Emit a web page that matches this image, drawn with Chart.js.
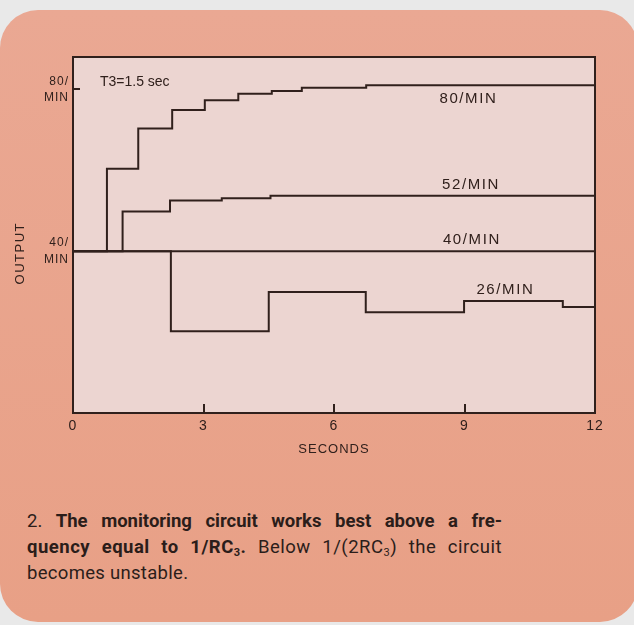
<!DOCTYPE html>
<html>
<head>
<meta charset="utf-8">
<script src="https://cdn.jsdelivr.net/npm/chart.js@4.4.1/dist/chart.umd.min.js"></script>
<style>
  html, body { margin: 0; padding: 0; background: #e9e9e9; }
  body { width: 634px; height: 625px; position: relative; overflow: hidden; }
  #card { position: absolute; left: 0; top: 10px; width: 638px; height: 612px; border-radius: 38px;
          background: linear-gradient(#eaa893, #e8a086); }
  #wrap { position: absolute; left: 0; top: 0; width: 634px; height: 470px; }
  #caption { position: absolute; left: 27px; top: 508px; width: 475px; color: #2b1d1a;
             font: 18.5px Roboto, sans-serif; line-height: 26px; }
  #caption span { display: block; text-align: justify; text-align-last: justify; white-space: nowrap; }
  #caption span.second { letter-spacing: 0.5px; }
  #caption span.last { text-align-last: left; letter-spacing: 0.3px; }
  #caption sub { font-size: 11px; vertical-align: -3px; line-height: 0; }
</style>
</head>
<body>
<div id="card"></div>
<div id="wrap"><canvas id="grafica" width="634" height="470"></canvas></div>
<div id="caption">
  <span>2. <b>The monitoring circuit works best above a fre-</b></span>
  <span class="second"><b>quency equal to 1/RC<sub>3</sub>.</b> Below 1/(2RC<sub>3</sub>) the circuit</span>
  <span class="last">becomes unstable.</span>
</div>
<script>
// tiempos (s) y niveles de salida de cada respuesta escalonada
var secondsTicks = [0, 3, 6, 9, 12];
var outputTicks = [40, 80];
var outputTickLabels = [["40/", "MIN"], ["80/", "MIN"]];

var t80 = [0, 0.78, 1.5, 2.28, 3.03, 3.8, 4.57, 5.26, 6.74, 12];
var v80 = [40, 60.4, 70.3, 74.9, 77.3, 78.9, 79.6, 80.4, 81.0, 81.0];
var t52 = [0, 1.14, 2.23, 3.42, 4.54, 12];
var v52 = [40, 49.8, 52.5, 53.1, 53.7, 53.7];
var t40 = [0, 12];
var v40 = [40, 40];
var t26 = [0, 2.25, 4.5, 6.73, 8.99, 11.26, 12];
var v26 = [40, 20.2, 29.9, 24.9, 27.7, 26.2, 26.2];

var curveNames = ["80/MIN", "52/MIN", "40/MIN", "26/MIN"];
var note = "T3=1.5 sec";

// donde va cada etiqueta, en unidades de los ejes (segundos, salida)
var labelSpots = [[9.09, 77.6], [9.15, 56.4], [9.17, 42.7], [9.94, 30.4]];
var noteSpot = [0.62, 81.7];

var ink = "#30201c";

function puntos(ts, vs) {
  return ts.map(function (t, i) { return { x: t, y: vs[i] }; });
}

function serie(ts, vs) {
  return {
    data: puntos(ts, vs),
    stepped: true,
    borderColor: ink,
    borderWidth: 2,
    pointRadius: 0,
    fill: false,
  };
}

var marco = {
  id: "marco",
  beforeDraw: function (chart) {
    var ctx = chart.ctx, a = chart.chartArea;
    ctx.save();
    ctx.fillStyle = "#ecd5d1";
    ctx.fillRect(a.left, a.top, a.width, a.height);
    ctx.restore();
    ctx.letterSpacing = "1px";
  },
  afterDraw: function (chart) {
    var ctx = chart.ctx, a = chart.chartArea;
    var sx = chart.scales.x, sy = chart.scales.y;
    ctx.save();
    ctx.strokeStyle = ink;
    ctx.lineWidth = 2;
    ctx.strokeRect(a.left, a.top, a.width, a.height);

    ctx.fillStyle = ink;
    ctx.letterSpacing = "1.6px";
    ctx.font = '15px "Liberation Sans", sans-serif';
    ctx.textAlign = "center";
    ctx.textBaseline = "middle";
    curveNames.forEach(function (name, i) {
      ctx.fillText(name, sx.getPixelForValue(labelSpots[i][0]), sy.getPixelForValue(labelSpots[i][1]));
    });

    ctx.letterSpacing = "0px";
    ctx.font = '14px "Liberation Sans", sans-serif';
    ctx.textAlign = "left";
    ctx.fillText(note, sx.getPixelForValue(noteSpot[0]), sy.getPixelForValue(noteSpot[1]));

    // titulo del eje vertical
    ctx.letterSpacing = "1.5px";
    ctx.font = '13px "Liberation Sans", sans-serif';
    ctx.translate(a.left - 53, sy.getPixelForValue(39.5));
    ctx.rotate(-Math.PI / 2);
    ctx.textAlign = "center";
    ctx.fillText("OUTPUT", 0, 0);
    ctx.restore();
  },
};

var ctx = document.getElementById("grafica").getContext("2d");
var chart = new Chart(ctx, {
  type: "line",
  data: {
    datasets: [serie(t80, v80), serie(t52, v52), serie(t40, v40), serie(t26, v26)],
  },
  options: {
    responsive: false,
    animation: false,
    layout: { padding: { top: 57, right: 39, left: 0, bottom: 0 } },
    plugins: { legend: { display: false }, tooltip: { enabled: false } },
    scales: {
      x: {
        type: "linear",
        min: 0,
        max: 12,
        afterBuildTicks: function (scale) {
          scale.ticks = secondsTicks.map(function (v) { return { value: v }; });
        },
        afterFit: function (scale) { scale.height = 57; },
        border: { display: false },
        grid: { drawOnChartArea: false, drawTicks: true, tickLength: -9, color: ink, lineWidth: 2 },
        ticks: { color: ink, padding: 14, maxRotation: 0, font: { family: "Liberation Sans", size: 14 } },
        title: {
          display: true,
          text: "SECONDS",
          color: ink,
          padding: { top: 0, bottom: 13 },
          font: { family: "Liberation Sans", size: 13 },
        },
      },
      y: {
        type: "linear",
        min: 0,
        max: 88,
        afterBuildTicks: function (scale) {
          scale.ticks = outputTicks.map(function (v) { return { value: v }; });
        },
        afterFit: function (scale) { scale.width = 73; },
        border: { display: false },
        grid: { drawOnChartArea: false, drawTicks: true, tickLength: -7, color: ink, lineWidth: 2 },
        ticks: {
          color: ink,
          padding: 11,
          font: { family: "Liberation Sans", size: 12, lineHeight: 1.35 },
          callback: function (value, index) { return outputTickLabels[index]; },
        },
      },
    },
  },
  plugins: [marco],
});
</script>
</body>
</html>
